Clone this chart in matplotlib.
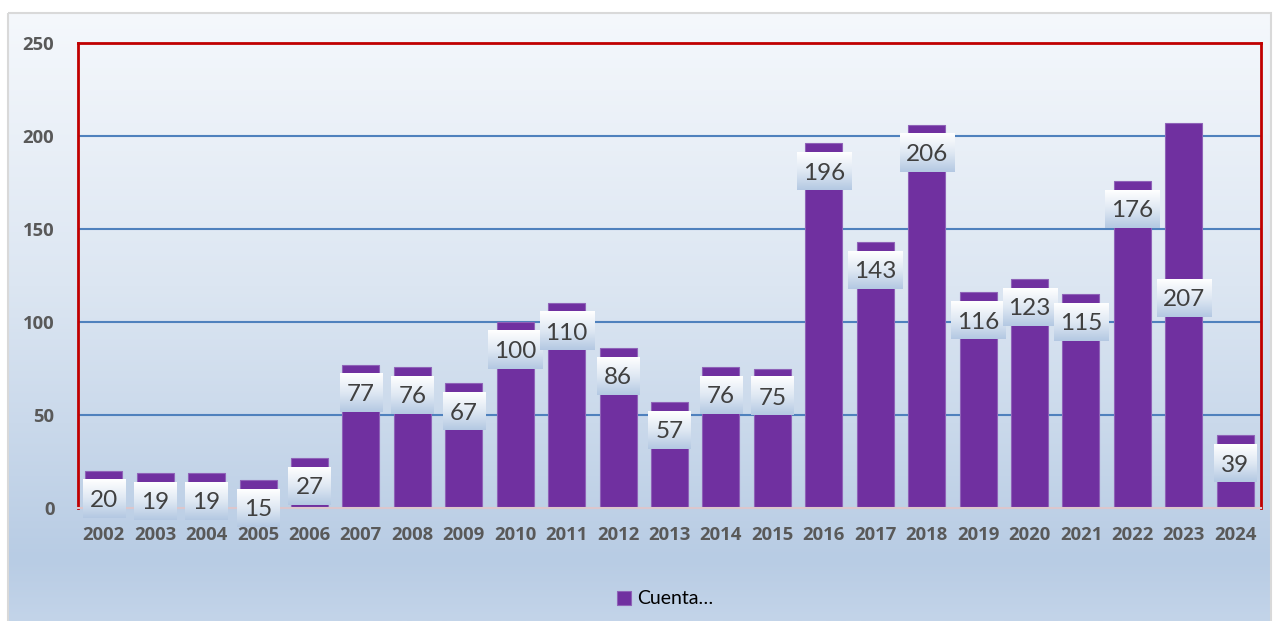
import matplotlib.pyplot as plt
import numpy as np
from matplotlib.colors import LinearSegmentedColormap
from matplotlib.patches import Rectangle

years = [str(y) for y in range(2002, 2025)]
counts = [20, 19, 19, 15, 27, 77, 76, 67, 100, 110, 86, 57, 76, 75,
          196, 143, 206, 116, 123, 115, 176, 207, 39]
legend_label = "Cuenta…"

plt.rcParams['font.family'] = ['Lato', 'DejaVu Sans']

fig = plt.figure(figsize=(12.77, 6.21), dpi=100)

# background gradient of the chart area
bg = fig.add_axes([0, 0, 1, 1], zorder=-10)
bg.set_xlim(0, 1277)
bg.set_ylim(621, 0)
bg.axis('off')
bg_cmap = LinearSegmentedColormap.from_list(
    'bg', [(0, '#f5f8fc'), (0.45, '#dce6f2'), (0.9, '#b8cce4'), (1, '#c3d4e9')])
grad = np.linspace(0, 1, 256).reshape(-1, 1)
bg.imshow(grad, cmap=bg_cmap, extent=[8, 1271, 621, 13], aspect='auto')
bg.add_patch(Rectangle((8, 13), 1263, 620, fill=False, ec='#d9d9d9', lw=1.5))

ax = fig.add_axes([78 / 1277, 113 / 621, 1183 / 1277, 465 / 621])
ax.patch.set_alpha(0)
x = np.arange(len(years))
ax.bar(x, counts, width=0.72, color='#7030a0', edgecolor='#8f63b8',
       linewidth=0.8, zorder=2, label=legend_label)
ax.set_xlim(-0.5, len(years) - 0.5)
ax.set_ylim(0, 250)
ax.set_yticks([0, 50, 100, 150, 200, 250])
ax.set_xticks(x)
ax.set_xticklabels(years)
ax.tick_params(length=0, labelcolor='#595959', pad=13)
ax.tick_params(axis='y', pad=17)
for t in ax.get_xticklabels() + ax.get_yticklabels():
    t.set_family(['Open Sans', 'DejaVu Sans'])
    t.set_fontweight('bold')
    t.set_fontsize(13.3)
for v in [50, 100, 150, 200]:
    ax.axhline(v, color='#4f81bd', lw=1.5, zorder=1)
for s in ['left', 'top', 'right']:
    ax.spines[s].set_color('#c00000')
    ax.spines[s].set_linewidth(2)
ax.spines['bottom'].set_color('#dcc6cc')
ax.spines['bottom'].set_linewidth(1.5)

# data labels in gradient boxes
lab_cmap = LinearSegmentedColormap.from_list('lab', ['#ffffff', '#dfe8f3', '#b3c8e2'])
px = 250 / 465
for i, v in enumerate(counts):
    center = v - 15 * px / 0.5376
    if years[i] == '2023':
        center = 113
    w = 0.82 if v < 100 else 1.05
    h = 38 * px
    ax.imshow(grad, cmap=lab_cmap, extent=[i - w / 2, i + w / 2, center - h / 2, center + h / 2],
              aspect='auto', zorder=3, clip_on=False)
    ax.text(i, center - 1, str(v), ha='center', va='center', fontsize=17.5,
            color='#404040', zorder=4)
ax.set_xlim(-0.5, len(years) - 0.5)
ax.set_ylim(0, 250)
ax.set_aspect('auto')

fig.legend(loc='center', bbox_to_anchor=(665 / 1277, 1 - 599 / 621), frameon=False,
           fontsize=14, handlelength=0.75, handleheight=0.75, handletextpad=0.3)

plt.savefig('out.png', dpi=100)
